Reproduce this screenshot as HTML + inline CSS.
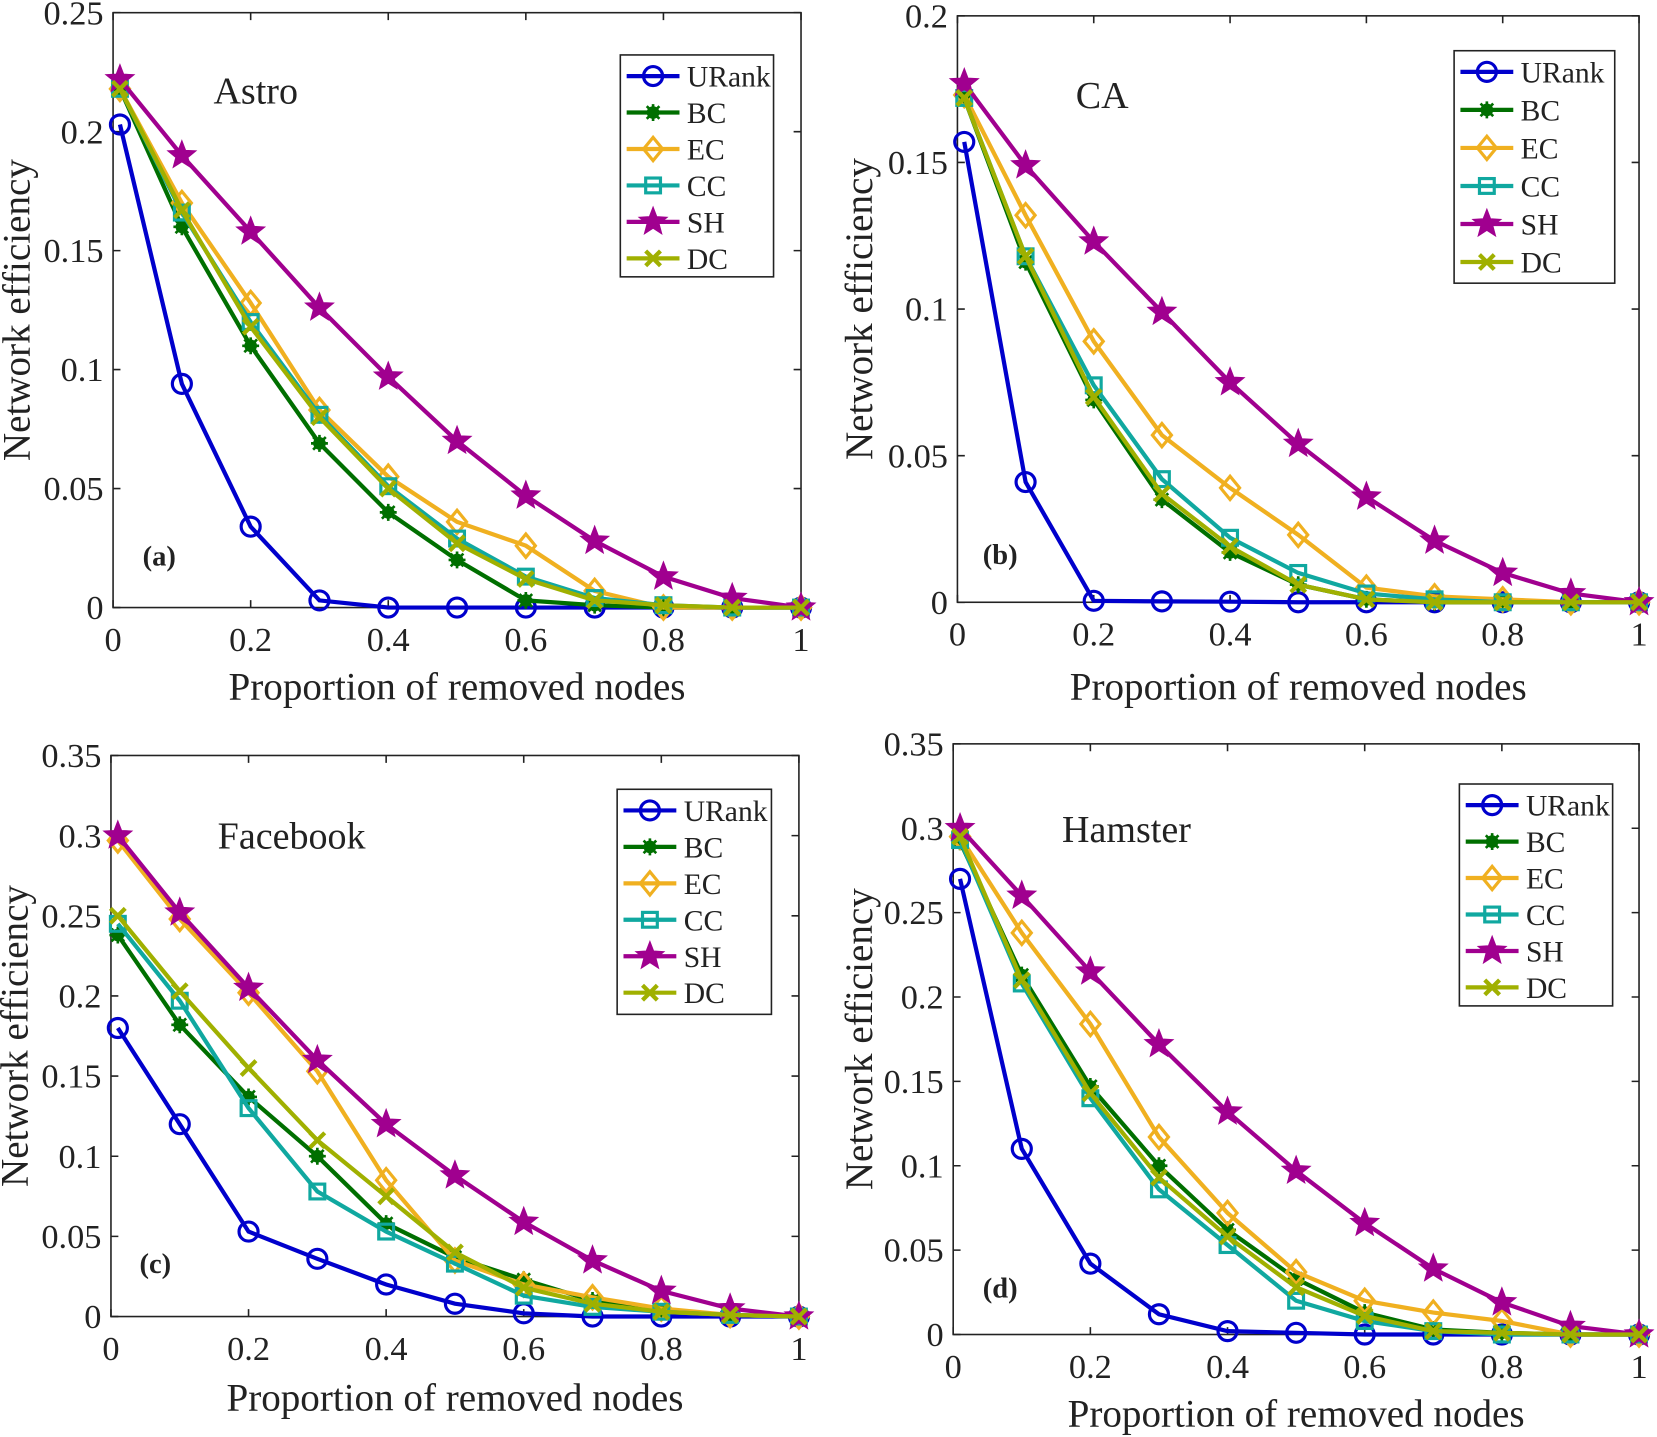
<!DOCTYPE html>
<html><head><meta charset="utf-8"><style>
html,body{margin:0;padding:0;background:#fff}
svg{display:block}
text{font-family:"Liberation Serif",serif;fill:#222}
</style></head><body>
<svg id="s" width="1657" height="1437" viewBox="0 0 1568 1360" preserveAspectRatio="none" xmlns="http://www.w3.org/2000/svg"></svg>
<script>
const S=document.getElementById('s');let h='';
const C={URank:'#0000cc',BC:'#006f00',EC:'#f0b020',CC:'#10a8a0',SH:'#a0008f',DC:'#a0b000'};
const names=['URank','BC','EC','CC','SH','DC'];
const xs=[0.01,0.1,0.2,0.3,0.4,0.5,0.6,0.7,0.8,0.9,1];
function marker(n,x,y){const c=C[n];
 if(n=='URank')return `<circle cx="${x}" cy="${y}" r="9" fill="none" stroke="${c}" stroke-width="3"/>`;
 if(n=='EC')return `<path d="M${x} ${y-11}L${x+9} ${y}L${x} ${y+11}L${x-9} ${y}Z" fill="none" stroke="${c}" stroke-width="3"/>`;
 if(n=='CC')return `<rect x="${x-7}" y="${y-7}" width="14" height="14" fill="none" stroke="${c}" stroke-width="3"/>`;
 if(n=='SH'){let p='';for(let i=0;i<10;i++){const r=i%2?6:14,a=-Math.PI/2+i*Math.PI/5;p+=(i?'L':'M')+(x+r*Math.cos(a)).toFixed(1)+' '+(y+r*Math.sin(a)).toFixed(1);}return `<path d="${p}Z" fill="${c}" stroke="${c}" stroke-width="1"/>`;}
 if(n=='BC')return `<circle cx="${x}" cy="${y}" r="6" fill="${c}"/><path d="M${x-8} ${y}H${x+8}M${x} ${y-8}V${y+8}M${x-6} ${y-6}L${x+6} ${y+6}M${x-6} ${y+6}L${x+6} ${y-6}" stroke="${c}" stroke-width="2.5"/>`;
 if(n=='DC')return `<path d="M${x-7} ${y-7}L${x+7} ${y+7}M${x-7} ${y+7}L${x+7} ${y-7}" stroke="${c}" stroke-width="4"/>`;}
function panel(p){
 const {x0,x1,y0,y1,ymax,yt,ylab,data,title,tp,lab,lp,lg,xl}=p;
 const X=v=>x0+(x1-x0)*v, Y=v=>y1-(y1-y0)*v/ymax;
 h+=`<rect x="${x0}" y="${y0}" width="${x1-x0}" height="${y1-y0}" fill="none" stroke="#222" stroke-width="1.5"/>`;
 for(let i=0;i<=5;i++){const v=i*0.2,x=X(v);h+=`<path d="M${x} ${y1}v-7M${x} ${y0}v7" stroke="#222" stroke-width="1.5"/><text x="${x}" y="${y1+41}" font-size="32.5" text-anchor="middle">${+v.toFixed(1)}</text>`;}
 yt.forEach(v=>{const y=Y(v);h+=`<path d="M${x0} ${y}h7M${x1} ${y}h-7" stroke="#222" stroke-width="1.5"/><text x="${x0-9}" y="${y+11}" font-size="32.5" text-anchor="end">${v}</text>`;});
 h+=`<text x="${(x0+x1)/2}" y="${xl}" font-size="37" text-anchor="middle">Proportion of removed nodes</text>`;
 h+=`<text transform="translate(${ylab} ${(y0+y1)/2}) rotate(-90)" font-size="37" text-anchor="middle">Network efficiency</text>`;
 h+=`<text x="${tp[0]}" y="${tp[1]}" font-size="36">${title}</text>`;
 h+=`<text x="${lp[0]}" y="${lp[1]}" font-size="27" font-weight="bold">${lab}</text>`;
 names.forEach(n=>{const d=data[n];h+=`<polyline points="${d.map((v,i)=>X(xs[i])+','+Y(v)).join(' ')}" fill="none" stroke="${C[n]}" stroke-width="4"/>`;d.forEach((v,i)=>h+=marker(n,X(xs[i]),Y(v)));});
 const [lx,ly,lw,lh,sp]=lg;
 h+=`<rect x="${lx}" y="${ly}" width="${lw}" height="${lh}" fill="#fff" stroke="#222" stroke-width="1.5"/>`;
 names.forEach((n,i)=>{const y=ly+20+i*sp;h+=`<line x1="${lx+6}" x2="${lx+56}" y1="${y}" y2="${y}" stroke="${C[n]}" stroke-width="4"/>`+marker(n,lx+31,y)+`<text x="${lx+63}" y="${y+10}" font-size="28">${n}</text>`;});
}
panel({x0:107,x1:758,y0:12,y1:575,ymax:0.25,yt:[0,0.05,0.1,0.15,0.2,0.25],ylab:28,xl:662,title:'Astro',tp:[202,98],lab:'(a)',lp:[135,535],lg:[587,52,145,210,34.5],
data:{URank:[.203,.094,.034,.003,0,0,0,0,0,0,0],BC:[.218,.160,.110,.069,.040,.020,.003,.001,0,0,0],EC:[.218,.170,.128,.083,.055,.036,.026,.007,0,0,0],CC:[.218,.166,.120,.081,.051,.029,.013,.004,.001,0,0],SH:[.222,.190,.158,.126,.097,.070,.047,.028,.013,.004,0],DC:[.218,.167,.118,.080,.050,.027,.012,.003,.001,0,0]}});
panel({x0:906,x1:1551,y0:15,y1:570,ymax:0.2,yt:[0,0.05,0.1,0.15,0.2],ylab:825,xl:662,title:'CA',tp:[1018,102],lab:'(b)',lp:[930,534],lg:[1376,48,152,220,36],
data:{URank:[.157,.041,.0005,.0003,.0002,0,0,0,0,0,0],BC:[.172,.116,.069,.035,.017,.006,.001,0,0,0,0],EC:[.173,.132,.089,.057,.039,.023,.005,.002,.001,0,0],CC:[.172,.118,.074,.042,.022,.010,.003,.001,0,0,0],SH:[.177,.149,.123,.099,.075,.054,.036,.021,.010,.003,0],DC:[.172,.118,.070,.037,.019,.006,.001,0,0,0,0]}});
panel({x0:105,x1:756,y0:715,y1:1246,ymax:0.35,yt:[0,0.05,0.1,0.15,0.2,0.25,0.3,0.35],ylab:26,xl:1335,title:'Facebook',tp:[206,803],lab:'(c)',lp:[132,1205],lg:[584,747,146,213,34.5],
data:{URank:[.180,.120,.053,.036,.020,.008,.002,0,0,0,0],BC:[.238,.182,.137,.100,.058,.037,.023,.010,.003,.001,0],EC:[.297,.248,.202,.153,.085,.035,.020,.012,.005,.001,0],CC:[.245,.197,.130,.078,.053,.033,.013,.006,.003,.001,0],SH:[.300,.252,.205,.160,.120,.088,.059,.035,.016,.005,0],DC:[.250,.203,.155,.110,.075,.040,.018,.008,.003,.001,0]}});
panel({x0:902,x1:1551,y0:704,y1:1263,ymax:0.35,yt:[0,0.05,0.1,0.15,0.2,0.25,0.3,0.35],ylab:825,xl:1350,title:'Hamster',tp:[1005,797],lab:'(d)',lp:[930,1228],lg:[1381,742,145,210,34.5],
data:{URank:[.270,.110,.042,.012,.002,.001,0,0,0,0,0],BC:[.292,.213,.147,.100,.062,.033,.013,.003,.001,0,0],EC:[.295,.238,.184,.117,.072,.037,.020,.013,.008,0,0],CC:[.293,.208,.140,.086,.053,.020,.008,.002,0,0,0],SH:[.300,.260,.215,.172,.132,.097,.066,.039,.019,.005,0],DC:[.295,.210,.143,.093,.058,.028,.011,.002,.001,0,0]}});
S.innerHTML=h;
</script>
</body></html>
